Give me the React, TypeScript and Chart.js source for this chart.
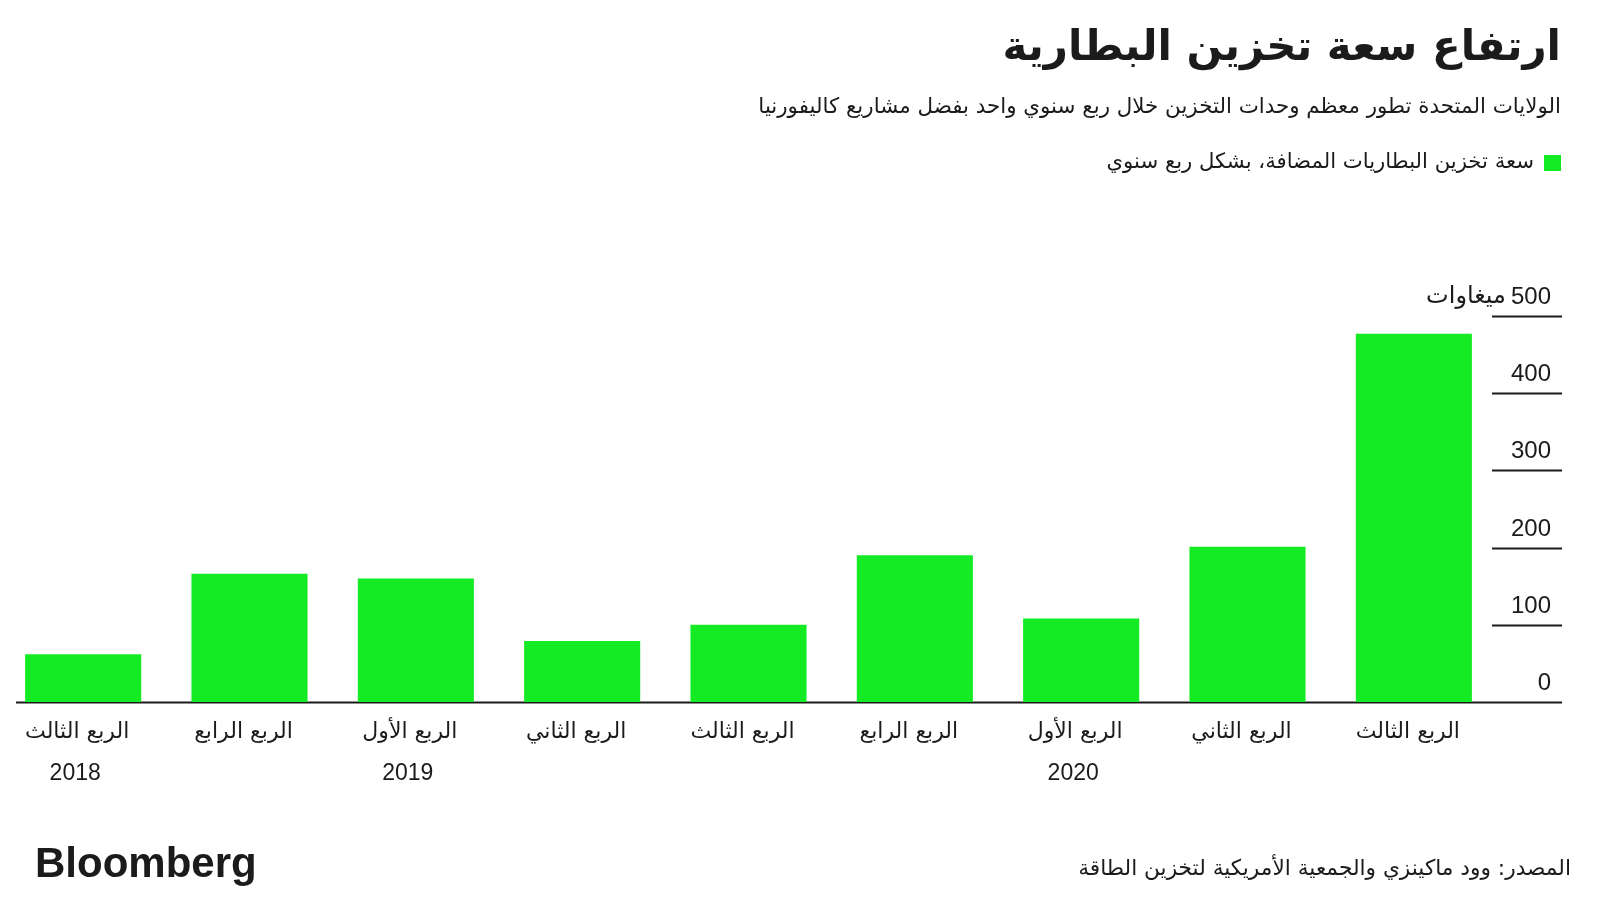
import { useEffect, useRef } from "react";
import { Chart, registerables } from "chart.js";

Chart.register(...registerables);

// ---- data ----
const quarterLabels = [
  "الربع الثالث",
  "الربع الرابع",
  "الربع الأول",
  "الربع الثاني",
  "الربع الثالث",
  "الربع الرابع",
  "الربع الأول",
  "الربع الثاني",
  "الربع الثالث",
];
const yearLabels = ["2018", "", "2019", "", "", "", "2020", "", ""];
const capacityMW = [62, 166, 160, 79, 100, 190, 108, 201, 477];
const yTicks = [0, 100, 200, 300, 400, 500];
const yUnit = "ميغاوات";

const titleText = "ارتفاع سعة تخزين البطارية";
const subtitleText =
  "الولايات المتحدة تطور معظم وحدات التخزين خلال ربع سنوي واحد بفضل مشاريع كاليفورنيا";
const legendText = "سعة تخزين البطاريات المضافة، بشكل ربع سنوي";
const sourceText = "المصدر: وود ماكينزي والجمعية الأمريكية لتخزين الطاقة";
const brandText = "Bloomberg";

// ---- style ----
const GREEN = "#14EB24";
const INK = "#1b1b1b";
const AR = "'DejaVu Sans', 'Noto Sans', sans-serif";
const LAT = "'Liberation Sans', Arial, 'DejaVu Sans', sans-serif";

const decorPlugin = {
  id: "decor",
  beforeDatasetsDraw(chart: any) {
    const ctx = chart.ctx;
    const y = chart.scales.y;
    ctx.save();
    ctx.strokeStyle = INK;
    ctx.lineWidth = 2;
    yTicks.forEach((v) => {
      const py = Math.round(y.getPixelForValue(v)) + 0.5;
      ctx.beginPath();
      ctx.moveTo(v === 0 ? 16 : 1492, py);
      ctx.lineTo(1562, py);
      ctx.stroke();
    });
    ctx.restore();
  },
  afterDraw(chart: any) {
    const ctx = chart.ctx;
    const x = chart.scales.x;
    const y = chart.scales.y;
    ctx.save();
    ctx.fillStyle = INK;

    // y tick labels
    ctx.textAlign = "right";
    ctx.textBaseline = "alphabetic";
    ctx.font = `24px ${LAT}`;
    yTicks.forEach((v) => {
      const py = y.getPixelForValue(v);
      ctx.fillText(String(v), 1551, py - 12);
      if (v === yTicks[yTicks.length - 1]) {
        const w = ctx.measureText(String(v)).width;
        ctx.font = `24px ${AR}`;
        ctx.direction = "rtl";
        ctx.fillText(yUnit, 1551 - w - 5, py - 13);
        ctx.direction = "ltr";
        ctx.font = `24px ${LAT}`;
      }
    });

    // x labels
    ctx.textAlign = "center";
    ctx.textBaseline = "middle";
    quarterLabels.forEach((lab, i) => {
      const px = x.getPixelForValue(i);
      ctx.font = `22px ${AR}`;
      ctx.direction = "rtl";
      ctx.fillText(lab, px - 6, 732);
      ctx.direction = "ltr";
      if (yearLabels[i]) {
        ctx.font = `23px ${LAT}`;
        ctx.fillText(yearLabels[i], px - 8, 774);
      }
    });

    // title
    ctx.direction = "rtl";
    ctx.textAlign = "right";
    ctx.textBaseline = "middle";
    ctx.font = `bold 42px ${AR}`;
    ctx.fillText(titleText, 1561, 49);
    ctx.font = `21.4px ${AR}`;
    ctx.fillText(subtitleText, 1561, 107);

    // legend
    ctx.fillStyle = GREEN;
    ctx.fillRect(1544, 155, 17, 16);
    ctx.fillStyle = INK;
    ctx.font = `21.2px ${AR}`;
    ctx.fillText(legendText, 1534, 162);

    // source
    ctx.font = `21.7px ${AR}`;
    ctx.fillText(sourceText, 1571, 869);
    ctx.direction = "ltr";

    // brand
    ctx.textAlign = "left";
    ctx.textBaseline = "alphabetic";
    ctx.font = `bold 42px ${LAT}`;
    ctx.fillText(brandText, 35, 877);

    ctx.restore();
  },
};

export default function App() {
  const ref = useRef<HTMLCanvasElement | null>(null);

  useEffect(() => {
    if (!ref.current) return;
    const chart = new Chart(ref.current, {
      type: "bar",
      data: {
        labels: quarterLabels,
        datasets: [
          {
            label: legendText,
            data: capacityMW,
            backgroundColor: GREEN,
            borderWidth: 0,
            categoryPercentage: 1,
            barPercentage: 0.698,
          },
        ],
      },
      options: {
        animation: false,
        responsive: false,
        devicePixelRatio: 1,
        layout: { padding: { left: -4, right: 103, top: 316, bottom: 198 } },
        plugins: {
          legend: { display: false },
          tooltip: { enabled: false },
          title: { display: false },
        },
        scales: {
          x: { display: false, offset: true, grid: { display: false } },
          y: { display: false, min: 0, max: 500 },
        },
      },
      plugins: [decorPlugin],
    });
    return () => chart.destroy();
  }, []);

  return (
    <div style={{ position: "fixed", left: 0, top: 0, width: 1600, height: 900, background: "#fff" }}>
      <canvas ref={ref} width={1600} height={900} style={{ width: 1600, height: 900, display: "block" }} />
    </div>
  );
}
